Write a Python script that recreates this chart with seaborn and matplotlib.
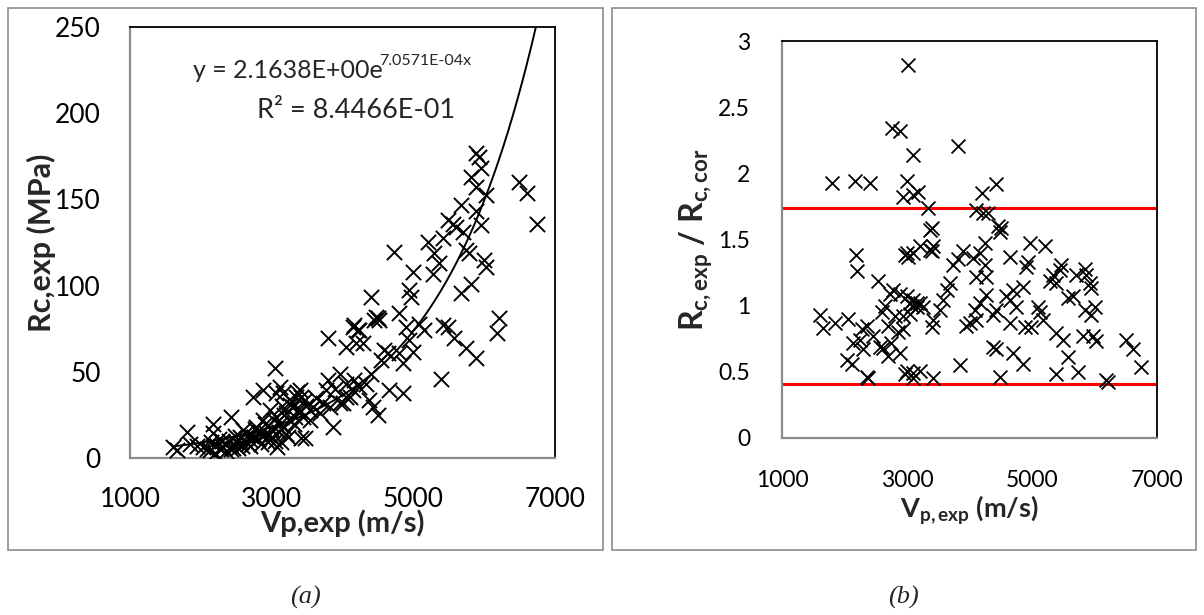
import numpy as np
import pandas as pd
import matplotlib
matplotlib.use("Agg")
import matplotlib.pyplot as plt
from matplotlib.patches import Rectangle
import seaborn as sns

# ---------------- data ----------------
vp_a = [1610, 1658, 1798, 1850, 1950, 2033, 2080, 2127, 2150, 2173, 2173, 2221, 2250, 2280, 2315,
        2340, 2362, 2400, 2432, 2455, 2480, 2500, 2549, 2580, 2600, 2620, 2643, 2660, 2690, 2710,
        2737, 2760, 2784, 2800, 2830, 2855, 2878, 2900, 2925, 2950, 2972, 2990, 3010, 3042, 3066,
        3066, 3080, 3100, 3113, 3113, 3130, 3150, 3159, 3180, 3207, 3230, 3250, 3270, 3300, 3320,
        3347, 3370, 3394, 3417, 3417, 3440, 3465, 3490, 3535, 3535, 3582, 3620, 3676, 3723, 3770,
        3793, 3793, 3817, 3864, 3900, 3958, 3958, 4005, 4051, 4051, 4051, 4099, 4145, 4145, 4169,
        4169, 4192, 4216, 4239, 4239, 4286, 4333, 4380, 4404, 4404, 4427, 4451, 4474, 4498, 4498,
        4521, 4545, 4592, 4638, 4662, 4723, 4803, 4803, 4850, 4850, 4897, 4944, 4944, 4968, 4990,
        4990, 5085, 5155, 5202, 5272, 5296, 5366, 5390, 5413, 5413, 5483, 5483, 5553, 5577, 5601,
        5671, 5671, 5695, 5742, 5742, 5789, 5812, 5812, 5883, 5883, 5883, 5883, 5930, 5953, 5953,
        6000, 6024, 6024, 6188, 6211, 6493, 6610, 6751,
        2200, 2300, 2420, 2520, 2560, 2700, 2750, 2850, 2880, 2940, 3000, 3030, 3050, 3170, 3200,
        3260, 3330, 3360, 3400, 3450]
rc_a = [6.6, 4.6, 15.3, 8, 7, 6.6, 5, 4.6, 9, 20, 14.3, 7.5, 11, 5, 6.6,
        8, 4, 10, 24, 6, 13, 9, 12.4, 7, 16, 10, 14.3, 8, 10.4, 13,
        35.6, 17, 18, 11, 14, 15.3, 39.4, 20, 14.3, 9, 27.8, 17, 12, 52, 37.5,
        24, 6.6, 15, 41.4, 20, 9.5, 30, 37.5, 18, 26, 12, 22, 33, 29.8, 20,
        35.6, 28, 39.4, 11.4, 35.6, 24, 11.4, 30, 27.8, 22, 29.8, 35, 26, 31.7, 39.4,
        45, 69.4, 29.8, 18, 40, 31.7, 49, 31.7, 35.6, 43, 64.6, 35.6, 39.4, 76, 45,
        77, 66.5, 74, 41, 74, 66.5, 43, 33.6, 49, 93.6, 29.8, 80, 82, 25, 81,
        80, 56.8, 62.6, 60.7, 39.4, 119.7, 60.7, 84, 37.5, 55, 76, 97.4, 68.4, 93.6, 108,
        61.7, 78, 74, 125.5, 107, 118.7, 113, 46, 127.4, 77, 138, 76, 136, 69.4, 134,
        146.7, 95.5, 131, 120.6, 63.6, 118.7, 163, 101, 176.7, 157, 143, 57.8, 174.8, 168, 135,
        114.8, 152.5, 111, 72.3, 81, 160, 153.5, 136,
        3, 10, 5, 6, 9, 7, 12, 8, 22, 12, 16, 22, 10, 25, 14,
        31, 24, 38, 27, 33]

vp_b = [1608, 1661, 1795, 1848, 2035, 2061, 2115, 2141, 2168, 2179, 2195, 2248, 2275, 2301, 2355,
        2355, 2381, 2408, 2461, 2541, 2568, 2621, 2728, 2755, 2781, 2888, 2888, 2888, 2941, 2941,
        2941, 2968, 2968, 2995, 2995, 2995, 2995, 3021, 3021, 3048, 3101, 3101, 3101, 3101, 3101,
        3101, 3155, 3155, 3181, 3208, 3208, 3208, 3261, 3341, 3368, 3368, 3395, 3395, 3395, 3421,
        3421, 3421, 3528, 3581, 3635, 3688, 3733, 3813, 3848, 3893, 3947, 4000, 4061, 4080, 4107,
        4107, 4107, 4160, 4168, 4213, 4248, 4248, 4267, 4267, 4373, 4373, 4427, 4427, 4453, 4480,
        4488, 4507, 4587, 4640, 4640, 4640, 4693, 4693, 4747, 4853, 4853, 4880, 4907, 4933, 4960,
        4987, 5093, 5120, 5173, 5200, 5280, 5333, 5387, 5387, 5387, 5440, 5467, 5493, 5573, 5573,
        5653, 5707, 5733, 5813, 5840, 5840, 5867, 5920, 5947, 5947, 5973, 6000, 6027, 6187, 6213,
        6507, 6613, 6747,
        2600, 2650, 2700, 2800, 2850, 2700, 2750, 3050, 3080, 3820, 4200, 4420, 4300]
ratio_b = [0.93, 0.83, 1.925, 0.87, 0.59, 0.90, 0.56, 0.72, 1.94, 1.38, 1.26, 0.74, 0.82, 0.67, 0.46,
           0.85, 0.45, 1.925, 0.77, 1.19, 0.69, 0.68, 1.09, 2.34, 1.12, 2.32, 1.09, 0.64, 1.82, 0.92,
           0.82, 1.38, 0.48, 1.94, 1.07, 1.40, 0.51, 2.82, 1.37, 0.94, 2.14, 1.84, 1.40, 1.04, 0.45,
           0.49, 1.02, 0.99, 1.86, 1.45, 1.02, 0.51, 0.99, 1.74, 1.42, 1.57, 1.585, 1.41, 0.84, 1.45,
           0.89, 0.45, 0.97, 1.04, 1.12, 1.17, 1.31, 1.35, 0.55, 1.41, 0.85, 0.87, 1.36, 0.97, 1.72,
           1.22, 0.89, 1.02, 1.40, 1.70, 1.47, 1.31, 1.22, 1.08, 0.93, 0.69, 0.97, 0.67, 1.60, 1.56,
           0.46, 1.585, 1.07, 1.37, 1.04, 0.87, 1.12, 0.64, 0.99, 1.14, 0.56, 0.84, 1.29, 1.33, 1.47,
           0.84, 0.99, 0.95, 0.89, 1.45, 1.19, 1.23, 1.17, 0.79, 0.48, 1.27, 1.31, 0.74, 1.06, 0.61,
           1.07, 1.23, 0.50, 0.77, 1.28, 0.97, 1.23, 1.17, 1.13, 0.93, 0.77, 0.99, 0.73, 0.44, 0.425,
           0.74, 0.67, 0.54,
           0.95, 1.00, 0.85, 0.92, 0.80, 0.62, 0.72, 1.02, 1.00, 2.21, 1.85, 1.92, 1.70]

# trendline shown on panel (a): y = a * exp(b x)
fit_a, fit_b = 2.1638, 7.0571e-4
limit_lines = [1.74, 0.41]

x_ticks = [1000, 3000, 5000, 7000]
y_ticks_a = [0, 50, 100, 150, 200, 250]
y_ticks_b = [0, 0.5, 1, 1.5, 2, 2.5, 3]
y_ticklabels_b = ["0", "0.5", "1", "1.5", "2", "2.5", "3"]

# ---------------- styling ----------------
sns.set_style("white")
plt.rcParams["font.family"] = ["Lato", "DejaVu Sans"]
plt.rcParams["mathtext.fontset"] = "custom"
plt.rcParams["mathtext.rm"] = "Lato"
plt.rcParams["mathtext.bf"] = "Lato:bold"
plt.rcParams["mathtext.it"] = "Lato:italic"

W, H = 1204, 615
fig = plt.figure(figsize=(W / 100, H / 100), dpi=100)
fig.patch.set_facecolor("white")


def px_axes(x0, y0, x1, y1):
    return fig.add_axes([x0 / W, 1 - y1 / H, (x1 - x0) / W, (y1 - y0) / H])


def style_axes(ax, fs, tick_len):
    for s in ["left", "bottom"]:
        ax.spines[s].set_color("#8a8a8a")
        ax.spines[s].set_linewidth(1.6)
    for s in ["top", "right"]:
        ax.spines[s].set_color("black")
        ax.spines[s].set_linewidth(1.3)
    ax.tick_params(axis="both", which="major", direction="out", length=tick_len, width=1.5,
                   color="#8a8a8a", labelsize=fs, labelcolor="black")
    ax.tick_params(axis="y", pad=13)
    ax.tick_params(axis="x", pad=13)


# outer chart boxes
for (x0, y0, x1, y1) in [(8, 8, 603, 550), (612, 8, 1196, 550)]:
    fig.add_artist(Rectangle((x0 / W, 1 - y1 / H), (x1 - x0) / W, (y1 - y0) / H,
                             transform=fig.transFigure, fill=False,
                             edgecolor="#8c8c8c", linewidth=1.2))

# ---------------- panel (a) ----------------
ax1 = px_axes(130, 27, 555, 458)
df_a = pd.DataFrame({"Vp": vp_a, "Rc": rc_a})
sns.scatterplot(data=df_a, x="Vp", y="Rc", ax=ax1, marker="x", color="black",
                s=120, linewidth=1.4, zorder=3, legend=False)
xf = np.linspace(min(vp_a), 7000, 400)
df_fit = pd.DataFrame({"Vp": xf, "Rc": fit_a * np.exp(fit_b * xf)})
sns.lineplot(data=df_fit, x="Vp", y="Rc", ax=ax1, color="black", linewidth=1.4, zorder=4)
ax1.set_xlim(1000, 7000)
ax1.set_ylim(0, 250)
ax1.set_xticks(x_ticks)
ax1.set_yticks(y_ticks_a)
style_axes(ax1, 19, 8)
ax1.set_xlabel("Vp,exp (m/s)", fontsize=21, fontweight="bold", labelpad=-2)
ax1.set_ylabel("Rc,exp (MPa)", fontsize=22, fontweight="bold", labelpad=-1)
fig.text(193 / W, 1 - 71 / H, "y = 2.1638E+00e", fontsize=18, ha="left", va="center")
fig.text(471 / W, 1 - 61 / H, "7.0571E-04x", fontsize=11.5, ha="right", va="center")
fig.text(455 / W, 1 - 110 / H, "R² = 8.4466E-01", fontsize=19.5, ha="right", va="center")

# ---------------- panel (b) ----------------
ax2 = px_axes(782, 41, 1157, 438)
df_b = pd.DataFrame({"Vp": vp_b, "ratio": ratio_b})
sns.scatterplot(data=df_b, x="Vp", y="ratio", ax=ax2, marker="x", color="black",
                s=100, linewidth=1.3, zorder=3, legend=False)
for v in limit_lines:
    ax2.axhline(v, color="#ff0000", linewidth=2.2, zorder=2)
ax2.set_xlim(1000, 7000)
ax2.set_ylim(0, 3)
ax2.set_xticks(x_ticks)
ax2.set_yticks(y_ticks_b)
ax2.set_yticklabels(y_ticklabels_b)
style_axes(ax2, 16.5, 10)
ax2.set_xlabel(r"$\mathbf{V_{p,exp}}$ (m/s)", fontsize=19.5, fontweight="bold", labelpad=2)
ax2.set_ylabel(r"$\mathbf{R_{c,exp}}$ / $\mathbf{R_{c,cor}}$", fontsize=23, fontweight="bold", labelpad=2)

# captions
fig.text(305 / W, 1 - 597 / H, "(a)", fontsize=19, family="Liberation Serif", style="italic",
         ha="center", va="center")
fig.text(903 / W, 1 - 597 / H, "(b)", fontsize=19, family="Liberation Serif", style="italic",
         ha="center", va="center")

fig.savefig("out.png", dpi=100, facecolor="white")
